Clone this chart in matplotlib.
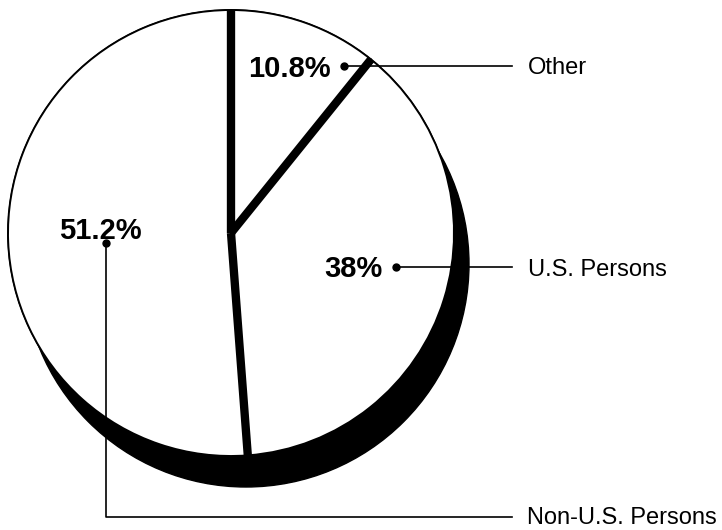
import numpy as np
import matplotlib
matplotlib.use("Agg")
import matplotlib.pyplot as plt
from matplotlib.patches import Circle

# data
categories = ["Other", "U.S. Persons", "Non-U.S. Persons"]
shares = [10.8, 38, 51.2]

plt.rcParams["font.family"] = ["Liberation Sans", "DejaVu Sans"]

fig = plt.figure(figsize=(7.22, 5.30), dpi=100)
ax = fig.add_axes([0, 0, 1, 1])

# pie geometry in pixel units (y axis inverted below)
cx, cy, r = 231, 233, 223
shadow_dx, shadow_dy = 15, 31

# black underlay + drop shadow
ax.add_patch(Circle((cx + shadow_dx, cy + shadow_dy), r, color="black", zorder=1))
ax.add_patch(Circle((cx, cy), r, color="black", zorder=1))

# y is flipped, so start at -90 and go "counterclock" -> clockwise from the top on screen
wedges, _ = ax.pie(shares, startangle=-90, counterclock=True, center=(cx, cy), radius=r,
                   colors=["white"] * 3,
                   wedgeprops=dict(edgecolor="black", linewidth=1.4))
for w in wedges:
    w.set_zorder(2)

# slice separators (gaps showing the black underneath)
bounds = np.concatenate([[0], np.cumsum(shares)[:-1]]) / sum(shares) * 2 * np.pi
for th in bounds:
    ax.plot([cx, cx + r * np.sin(th)], [cy, cy - r * np.cos(th)],
            color="black", lw=6, solid_capstyle="butt", zorder=3)

ax.set_xlim(0, 722)
ax.set_ylim(530, 0)
ax.set_aspect("equal")
ax.axis("off")

pct = [f"{v:g}%" for v in shares]
lead_kw = dict(color="black", lw=1.2, zorder=4)
dot_kw = dict(marker="o", ms=5, color="black", zorder=5)

# Other
ax.plot([344, 512], [66, 66], **lead_kw)
ax.plot(344, 66, **dot_kw)
ax.text(331, 66, pct[0], ha="right", va="center_baseline", fontsize=21, fontweight="bold", zorder=6)
ax.text(528, 66, categories[0], ha="left", va="center_baseline", fontsize=17, zorder=6)

# U.S. Persons
ax.plot([396, 512], [267, 267], **lead_kw)
ax.plot(396, 267, **dot_kw)
ax.text(383, 266, pct[1], ha="right", va="center_baseline", fontsize=21, fontweight="bold", zorder=6)
ax.text(528, 267, categories[1], ha="left", va="center_baseline", fontsize=17, zorder=6)

# Non-U.S. Persons
ax.plot([106, 106, 512], [243, 517, 517], **lead_kw)
ax.plot(106, 243, **dot_kw)
ax.text(100, 228, pct[2], ha="center", va="center_baseline", fontsize=21, fontweight="bold", zorder=6)
ax.text(527, 516, categories[2], ha="left", va="center_baseline", fontsize=17, zorder=6)

plt.savefig("out.png", dpi=100)
